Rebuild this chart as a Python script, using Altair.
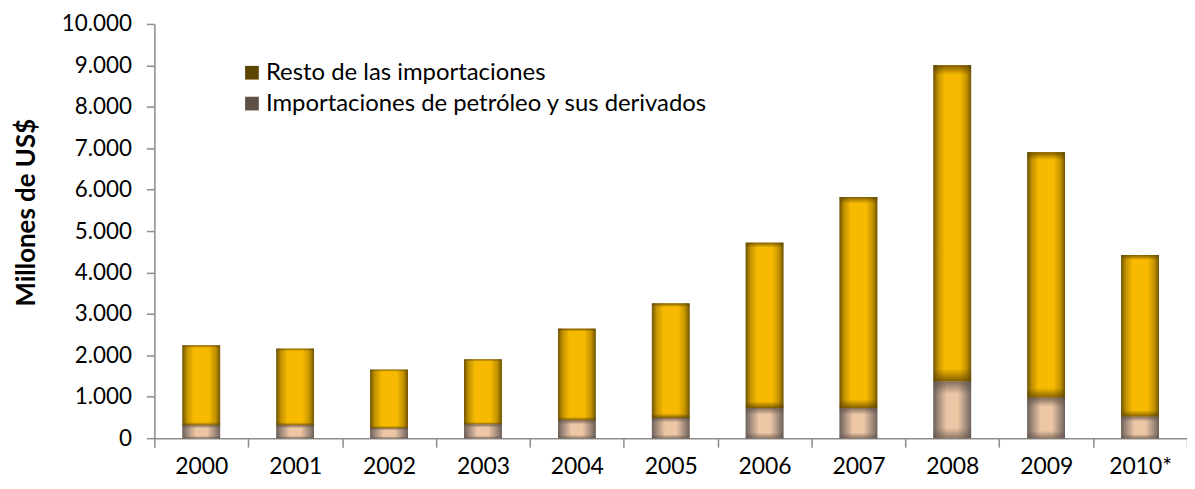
import altair as alt
import pandas as pd

years = ["2000", "2001", "2002", "2003", "2004", "2005", "2006", "2007", "2008", "2009", "2010*"]
petroleo = [310, 310, 240, 330, 430, 490, 730, 730, 1370, 975, 520]
resto = [1930, 1850, 1410, 1570, 2210, 2760, 3990, 5090, 7630, 5925, 3900]

s_resto = "Resto de las importaciones"
s_petro = "Importaciones de petróleo y sus derivados"
series = [s_resto, s_petro]
legend_colors = ["#5C4500", "#5F5046"]

rows = []
for y, p, r in zip(years, petroleo, resto):
    rows.append({"year": y, "serie": s_petro, "value": p, "ord": 0})
    rows.append({"year": y, "serie": s_resto, "value": r, "ord": 1})
df_long = pd.DataFrame(rows)
df_wide = pd.DataFrame({"year": years, "petro": petroleo,
                        "total": [p + r for p, r in zip(petroleo, resto)]})

FONT = "Lato"
AX = "#8c8c8c"
ydom = alt.Scale(domain=[0, 10000], nice=False)
yaxis = alt.Axis(values=list(range(0, 10001, 1000)), grid=False, tickSize=8,
                 labelPadding=15, domainColor=AX, tickColor=AX,
                 domainWidth=1.5, tickWidth=1.5,
                 labelFont=FONT, labelFontSize=22.5, labelColor="#000000",
                 labelExpr="replace(format(datum.value, ','), ',', '.')",
                 titleFont=FONT, titleFontSize=26, titleFontWeight="bold",
                 titleColor="#000000", titleX=-128, titleY=189,
                 titleAngle=270, titleAlign="center", titleBaseline="middle")
YT = "Millones de US$"
xenc = alt.X("year:N", sort=years, title=None,
             scale=alt.Scale(paddingInner=0, paddingOuter=0),
             axis=alt.Axis(tickBand="extent", tickSize=9, labelPadding=8, labelAngle=0,
                           domainColor=AX, tickColor=AX, domainWidth=1.5, tickWidth=1.5,
                           labelFont=FONT, labelFontSize=23, labelColor="#000000"))
BW = alt.RelativeBandSize(band=0.4)

base = alt.Chart(df_long).mark_bar(width=BW).encode(
    x=xenc,
    y=alt.Y("value:Q", stack="zero", scale=ydom, title=YT, axis=yaxis),
    color=alt.Color("serie:N", scale=alt.Scale(domain=series, range=legend_colors),
                    legend=alt.Legend(orient="none", legendX=86, legendY=37, title=None,
                                      symbolType="square", symbolSize=190, symbolStrokeWidth=0,
                                      labelFont=FONT, labelFontSize=24, labelColor="#000000",
                                      labelLimit=0, rowPadding=7, padding=0, labelOffset=2)),
    order=alt.Order("ord:Q"),
)

gold_h = alt.LinearGradient(gradient="linear", x1=0, x2=1, y1=0, y2=0, stops=[
    alt.GradientStop(offset=0, color="#735500"),
    alt.GradientStop(offset=0.12, color="#c29200"),
    alt.GradientStop(offset=0.3, color="#f7ba00"),
    alt.GradientStop(offset=0.7, color="#f7ba00"),
    alt.GradientStop(offset=0.88, color="#c29200"),
    alt.GradientStop(offset=1, color="#735500"),
])
gold_v = alt.LinearGradient(gradient="linear", x1=0, x2=0, y1=0, y2=1, stops=[
    alt.GradientStop(offset=0, color="rgba(90,65,0,0.75)"),
    alt.GradientStop(offset=0.03, color="rgba(90,65,0,0)"),
    alt.GradientStop(offset=0.96, color="rgba(90,65,0,0)"),
    alt.GradientStop(offset=1, color="rgba(90,65,0,0.75)"),
])
petro_h = alt.LinearGradient(gradient="linear", x1=0, x2=1, y1=0, y2=0, stops=[
    alt.GradientStop(offset=0, color="#6f625a"),
    alt.GradientStop(offset=0.15, color="#a89080"),
    alt.GradientStop(offset=0.35, color="#ecc6a5"),
    alt.GradientStop(offset=0.65, color="#ecc6a5"),
    alt.GradientStop(offset=0.85, color="#a89080"),
    alt.GradientStop(offset=1, color="#6f625a"),
])
petro_v = alt.LinearGradient(gradient="linear", x1=0, x2=0, y1=0, y2=1, stops=[
    alt.GradientStop(offset=0, color="rgba(95,80,70,0.75)"),
    alt.GradientStop(offset=0.22, color="rgba(95,80,70,0)"),
    alt.GradientStop(offset=0.82, color="rgba(95,80,70,0)"),
    alt.GradientStop(offset=1, color="rgba(95,80,70,0.65)"),
])

yt = alt.Y("total:Q", scale=ydom, title=YT, axis=yaxis)
yp = alt.Y("petro:Q", scale=ydom, title=YT, axis=yaxis)
resto_layer = alt.Chart(df_wide).mark_bar(fill=gold_h, width=BW).encode(x=xenc, y=yt, y2="petro:Q")
resto_shade = alt.Chart(df_wide).mark_bar(fill=gold_v, width=BW).encode(x=xenc, y=yt, y2="petro:Q")
petro_layer = alt.Chart(df_wide).mark_bar(fill=petro_h, width=BW).encode(x=xenc, y=yp)
petro_shade = alt.Chart(df_wide).mark_bar(fill=petro_v, width=BW).encode(x=xenc, y=yp)

chart = alt.layer(base, resto_layer, resto_shade, petro_layer, petro_shade).properties(
    width=1037, height=416, autosize="none",
    padding={"left": 147, "top": 15, "right": 0, "bottom": 42},
    background="#ffffff",
).configure_view(stroke=None)

chart.save("out.html", embed_options={"renderer": "svg", "actions": False})
